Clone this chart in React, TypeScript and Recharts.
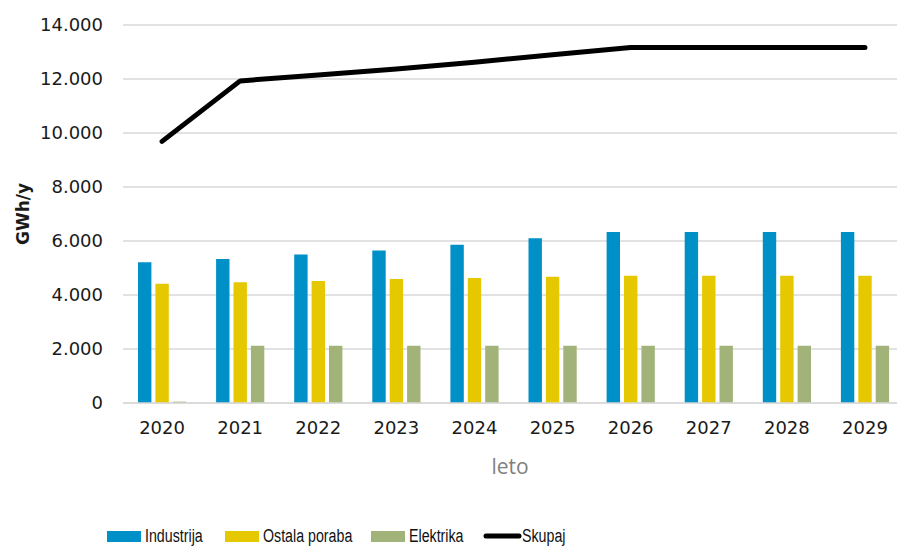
import React from 'react';
import { ComposedChart, Bar, Line, XAxis, YAxis, CartesianGrid, Legend } from 'recharts';

const years = ['2020', '2021', '2022', '2023', '2024', '2025', '2026', '2027', '2028', '2029'];
const industrija = [5210, 5330, 5500, 5650, 5860, 6100, 6330, 6330, 6330, 6330];
const ostalaPoraba = [4420, 4470, 4520, 4590, 4630, 4680, 4710, 4710, 4710, 4710];
const elektrika = [50, 2120, 2120, 2120, 2120, 2120, 2120, 2120, 2120, 2120];
const skupaj = [9690, 11930, 12150, 12370, 12620, 12900, 13170, 13170, 13170, 13170];
const yTicks = [0, 2000, 4000, 6000, 8000, 10000, 12000, 14000];

const barSeries = [
  { key: 'industrija', label: 'Industrija', color: '#0090c8' },
  { key: 'ostala', label: 'Ostala poraba', color: '#e5c800' },
  { key: 'elektrika', label: 'Elektrika', color: '#a1b378' },
];
const lineSeries = { key: 'skupaj', label: 'Skupaj', color: '#000000' };

const data = years.map((year, i) => ({
  year,
  industrija: industrija[i],
  ostala: ostalaPoraba[i],
  elektrika: elektrika[i],
  skupaj: skupaj[i],
}));

const numFont = "'DejaVu Sans', sans-serif";
const textFont = "'Liberation Sans', Arial, sans-serif";
const textColor = '#1a1a1a';
const legendItemWidths = [118, 146, 112];

const fmt = (v: number) => {
  if (v === 0) return '0';
  const th = Math.floor(v / 1000);
  const rest = String(v % 1000).padStart(3, '0');
  return `${th}.${rest}`;
};

const legendText = (label: string, ml: number) => (
  <span
    style={{
      display: 'inline-block',
      marginLeft: ml,
      transform: 'scaleX(0.79)',
      transformOrigin: 'left center',
      fontFamily: textFont,
      fontSize: 18,
      color: '#111',
      whiteSpace: 'nowrap',
    }}
  >
    {label}
  </span>
);

const LegendContent = () => (
  <div
    style={{
      display: 'flex',
      alignItems: 'center',
      height: 22,
      paddingLeft: 107,
      whiteSpace: 'nowrap',
    }}
  >
    {barSeries.map((s, i) => (
      <div
        key={s.key}
        style={{ display: 'flex', alignItems: 'center', width: legendItemWidths[i], flex: 'none' }}
      >
        <div style={{ width: 34, height: 11, background: s.color, flex: 'none' }} />
        {legendText(s.label, 4)}
      </div>
    ))}
    <div style={{ display: 'flex', alignItems: 'center', flex: 'none' }}>
      <svg width={39} height={8} style={{ flex: 'none' }}>
        <line x1={3} y1={4} x2={36} y2={4} stroke={lineSeries.color} strokeWidth={5} strokeLinecap="round" />
      </svg>
      {legendText(lineSeries.label, 0)}
    </div>
  </div>
);

const YLabel = (props: any) => {
  const vb = props.viewBox || {};
  const x = (vb.x ?? 0) + 23;
  const y = (vb.y ?? 0) + (vb.height ?? 0) / 2;
  return (
    <text
      x={x}
      y={y}
      transform={`rotate(-90, ${x}, ${y})`}
      textAnchor="middle"
      dominantBaseline="central"
      fontFamily={numFont}
      fontWeight="bold"
      fontSize={17}
      fill={textColor}
    >
      GWh/y
    </text>
  );
};

const XLabel = (props: any) => {
  const vb = props.viewBox || {};
  const x = (vb.x ?? 0) + 387;
  const y = (vb.y ?? 0) + 63;
  return (
    <text
      x={x}
      y={y}
      textAnchor="middle"
      dominantBaseline="central"
      fontFamily={"'Open Sans', 'DejaVu Sans', sans-serif"}
      fontSize={21}
      fill="#7f7f7f"
    >
      leto
    </text>
  );
};

export default function App() {
  return (
    <div
      style={{
        position: 'absolute',
        left: 0,
        top: 0,
        width: 897,
        height: 547,
        overflow: 'hidden',
        background: '#fff',
      }}
    >
      <ComposedChart
        width={904}
        height={547}
        data={data}
        margin={{ top: 25, right: 0, bottom: 0, left: 0 }}
        barGap={4}
        barSize={13.4}
      >
        <CartesianGrid vertical={false} stroke="#d9d9d9" strokeWidth={1.5} />
        <XAxis
          dataKey="year"
          height={122}
          tickLine={false}
          tickSize={0}
          tickMargin={18}
          axisLine={{ stroke: '#d9d9d9', strokeWidth: 1.5 }}
          tick={{ fontFamily: numFont, fontSize: 18, fill: textColor }}
          label={<XLabel />}
        />
        <YAxis
          width={123}
          domain={[0, 14000]}
          ticks={yTicks}
          interval={0}
          tickFormatter={fmt}
          axisLine={false}
          tickLine={false}
          tickSize={0}
          tickMargin={20}
          tick={{ fontFamily: numFont, fontSize: 18, fill: textColor }}
          label={<YLabel />}
        />
        <Legend
          verticalAlign="bottom"
          align="left"
          content={<LegendContent />}
          wrapperStyle={{ left: 0, width: 897 }}
        />
        {barSeries.map((s) => (
          <Bar key={s.key} dataKey={s.key} name={s.label} fill={s.color} isAnimationActive={false} />
        ))}
        <Line
          dataKey={lineSeries.key}
          name={lineSeries.label}
          type="linear"
          stroke={lineSeries.color}
          strokeWidth={5}
          strokeLinecap="round"
          strokeLinejoin="round"
          dot={false}
          activeDot={false}
          isAnimationActive={false}
        />
      </ComposedChart>
    </div>
  );
}
